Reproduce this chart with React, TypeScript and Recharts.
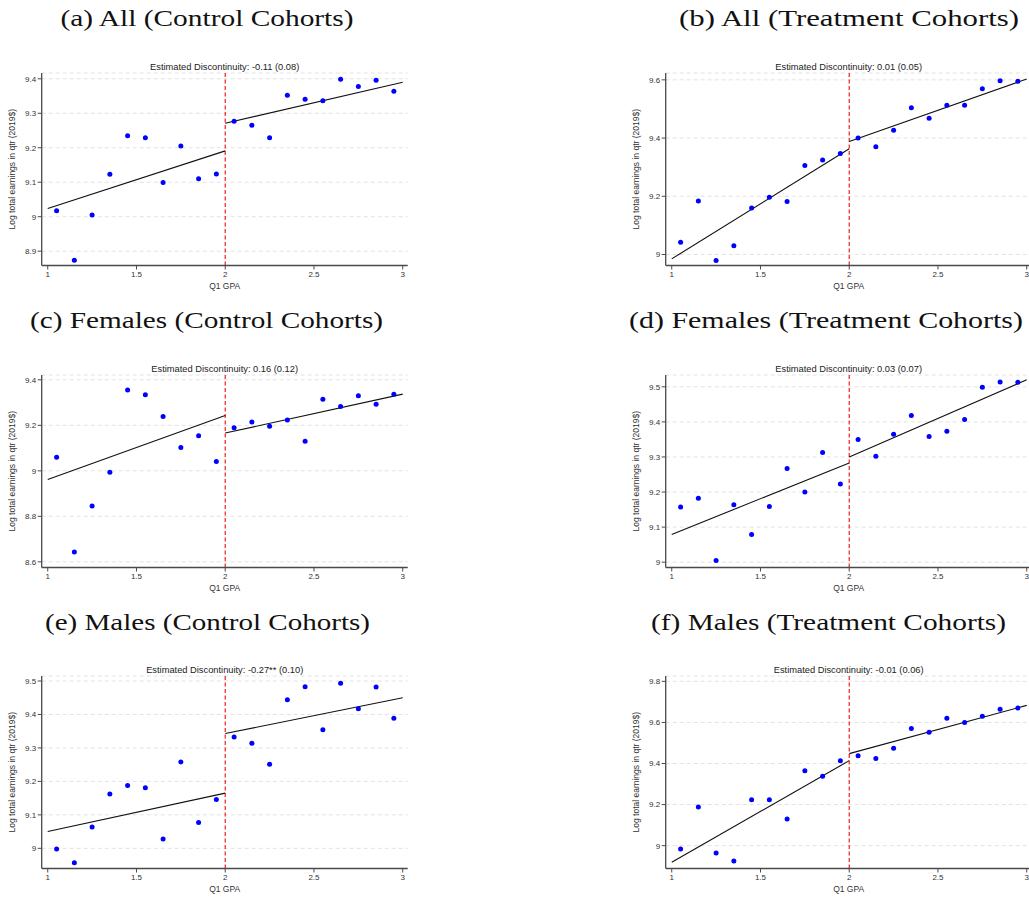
import React from "react";
import { ScatterChart, Scatter, XAxis, YAxis, CartesianGrid, ReferenceLine } from "recharts";

const SANS = '"Liberation Sans", Arial, sans-serif';
const SERIF = '"Liberation Serif", "Times New Roman", serif';

// ---------------- data ----------------
const binCenters = [1.05, 1.15, 1.25, 1.35, 1.45, 1.55, 1.65, 1.75, 1.85, 1.95, 2.05, 2.15, 2.25, 2.35, 2.45, 2.55, 2.65, 2.75, 2.85, 2.95];
const fitKnots = [1, 2, 3];
const cutoff = 2;
const xTicks = [1, 1.5, 2, 2.5, 3];

const allControlY = [9.017, 8.874, 9.005, 9.123, 9.235, 9.229, 9.099, 9.205, 9.11, 9.124, 9.277, 9.265, 9.229, 9.352, 9.341, 9.336, 9.399, 9.378, 9.396, 9.364];
const allControlLeftFit = [9.024, 9.191];
const allControlRightFit = [9.271, 9.39];
const allControlTicks = [8.9, 9, 9.1, 9.2, 9.3, 9.4];

const allTreatY = [9.042, 9.184, 8.979, 9.03, 9.16, 9.197, 9.182, 9.306, 9.325, 9.347, 9.4, 9.37, 9.427, 9.504, 9.468, 9.513, 9.513, 9.569, 9.597, 9.595];
const allTreatLeftFit = [8.985, 9.363];
const allTreatRightFit = [9.388, 9.603];
const allTreatTicks = [9, 9.2, 9.4, 9.6];

const femControlY = [9.06, 8.643, 8.845, 8.994, 9.355, 9.334, 9.239, 9.103, 9.154, 9.041, 9.189, 9.215, 9.196, 9.223, 9.13, 9.315, 9.283, 9.33, 9.293, 9.337];
const femControlLeftFit = [8.962, 9.243];
const femControlRightFit = [9.166, 9.337];
const femControlTicks = [8.6, 8.8, 9, 9.2, 9.4];

const femTreatY = [9.157, 9.182, 9.005, 9.164, 9.079, 9.159, 9.267, 9.2, 9.313, 9.223, 9.35, 9.302, 9.365, 9.418, 9.358, 9.373, 9.407, 9.499, 9.514, 9.513];
const femTreatLeftFit = [9.079, 9.283];
const femTreatRightFit = [9.3, 9.52];
const femTreatTicks = [9, 9.1, 9.2, 9.3, 9.4, 9.5];

const maleControlY = [8.998, 8.957, 9.064, 9.162, 9.188, 9.181, 9.028, 9.258, 9.077, 9.146, 9.333, 9.314, 9.251, 9.444, 9.483, 9.354, 9.493, 9.417, 9.482, 9.389];
const maleControlLeftFit = [9.05, 9.165];
const maleControlRightFit = [9.343, 9.45];
const maleControlTicks = [9, 9.1, 9.2, 9.3, 9.4, 9.5];

const maleTreatY = [8.984, 9.188, 8.964, 8.925, 9.224, 9.224, 9.13, 9.365, 9.338, 9.414, 9.438, 9.424, 9.474, 9.57, 9.552, 9.62, 9.6, 9.63, 9.664, 9.67];
const maleTreatLeftFit = [8.919, 9.414];
const maleTreatRightFit = [9.448, 9.683];
const maleTreatTicks = [9, 9.2, 9.4, 9.6, 9.8];

// ---------------- layout ----------------
const ROW_PLOT_TOP = [72.5, 374.5, 676];
const PLOT_H = 192.5;
const PLOT_W = 366;
const TOP_PAD = 10;
const X_AXIS_H = 30;
const X_DOMAIN: [number, number] = [0.966, 3.028];
const COLS = [
  { left: 0, axisW: 41.7, width: 420, labelX: 11.7 },
  { left: 620, axisW: 45.7, width: 412, labelX: 16 },
];

type PanelSpec = {
  title: string;
  titleCenter: number;
  titleWidth: number;
  disc: string;
  values: number[];
  leftFit: number[];
  rightFit: number[];
  yTicks: number[];
  yDomain: [number, number];
  col: number;
  row: number;
};

const panels: PanelSpec[] = [
  { title: "(a) All (Control Cohorts)", titleCenter: 207, titleWidth: 293, disc: "Estimated Discontinuity: -0.11 (0.08)", values: allControlY, leftFit: allControlLeftFit, rightFit: allControlRightFit, yTicks: allControlTicks, yDomain: [8.8585, 9.4168], col: 0, row: 0 },
  { title: "(b) All (Treatment Cohorts)", titleCenter: 849, titleWidth: 340, disc: "Estimated Discontinuity: 0.01 (0.05)", values: allTreatY, leftFit: allTreatLeftFit, rightFit: allTreatRightFit, yTicks: allTreatTicks, yDomain: [8.9622, 9.6235], col: 1, row: 0 },
  { title: "(c) Females (Control Cohorts)", titleCenter: 206.5, titleWidth: 353, disc: "Estimated Discontinuity: 0.16 (0.12)", values: femControlY, leftFit: femControlLeftFit, rightFit: femControlRightFit, yTicks: femControlTicks, yDomain: [8.5751, 9.4212], col: 0, row: 1 },
  { title: "(d) Females (Treatment Cohorts)", titleCenter: 826, titleWidth: 394, disc: "Estimated Discontinuity: 0.03 (0.07)", values: femTreatY, leftFit: femTreatLeftFit, rightFit: femTreatRightFit, yTicks: femTreatTicks, yDomain: [8.9848, 9.5337], col: 1, row: 1 },
  { title: "(e) Males (Control Cohorts)", titleCenter: 207.5, titleWidth: 325, disc: "Estimated Discontinuity: -0.27** (0.10)", values: maleControlY, leftFit: maleControlLeftFit, rightFit: maleControlRightFit, yTicks: maleControlTicks, yDomain: [8.9397, 9.5149], col: 0, row: 2 },
  { title: "(f) Males (Treatment Cohorts)", titleCenter: 828.5, titleWidth: 355, disc: "Estimated Discontinuity: -0.01 (0.06)", values: maleTreatY, leftFit: maleTreatLeftFit, rightFit: maleTreatRightFit, yTicks: maleTreatTicks, yDomain: [8.8889, 9.826], col: 1, row: 2 },
];

const AXIS_COLOR = "#4a4a4a";
const TEXT_COLOR = "#333";

const Dot = (props: any) => {
  if (props.cx == null || props.cy == null) return <g />;
  return <circle cx={props.cx} cy={props.cy} r={2.5} fill="#0000ff" />;
};

function Panel({ p }: { p: PanelSpec }) {
  const col = COLS[p.col];
  const plotTop = ROW_PLOT_TOP[p.row];
  const chartH = TOP_PAD + PLOT_H + X_AXIS_H;
  const data = binCenters.map((x, i) => ({ x, y: p.values[i] }));
  const plotCx = col.axisW + PLOT_W / 2;
  const plotCy = TOP_PAD + PLOT_H / 2;
  const plotBottom = TOP_PAD + PLOT_H;
  return (
    <>
      <div
        style={{
          position: "absolute",
          left: col.left + col.axisW,
          top: plotTop - 12,
          width: PLOT_W,
          height: 12,
          lineHeight: "12px",
          fontSize: 9.3,
          fontFamily: SANS,
          textAlign: "center",
          color: "#222",
          whiteSpace: "nowrap",
        }}
      >
        {p.disc}
      </div>
      <div style={{ position: "absolute", left: col.left, top: plotTop - TOP_PAD }}>
        <ScatterChart
          width={col.width}
          height={chartH}
          margin={{ top: TOP_PAD, right: col.width - col.axisW - PLOT_W, bottom: 0, left: 0 }}
        >
          <CartesianGrid horizontal vertical={false} stroke="#e2e2e2" strokeDasharray="4 3" />
          <XAxis
            type="number"
            dataKey="x"
            domain={X_DOMAIN}
            allowDataOverflow
            ticks={xTicks}
            interval={0}
            tickFormatter={(v: number) => String(v)}
            height={X_AXIS_H}
            tickSize={4}
            tickMargin={1.5}
            tick={{ fontSize: 8, fill: TEXT_COLOR, fontFamily: SANS }}
            axisLine={{ stroke: AXIS_COLOR, strokeWidth: 1.3 }}
            tickLine={{ stroke: AXIS_COLOR, strokeWidth: 1 }}
            label={() => (
              <text
                x={plotCx}
                y={plotBottom + 20}
                textAnchor="middle"
                dominantBaseline="central"
                fontSize={8.5}
                fontFamily={SANS}
                fill={TEXT_COLOR}
              >
                Q1 GPA
              </text>
            )}
          />
          <YAxis
            type="number"
            dataKey="y"
            domain={p.yDomain}
            allowDataOverflow
            ticks={p.yTicks}
            interval={0}
            tickFormatter={(v: number) => String(v)}
            width={col.axisW}
            tickSize={4}
            tickMargin={1.5}
            tick={{ fontSize: 8, fill: TEXT_COLOR, fontFamily: SANS }}
            axisLine={{ stroke: AXIS_COLOR, strokeWidth: 1.3 }}
            tickLine={{ stroke: AXIS_COLOR, strokeWidth: 1 }}
            label={() => (
              <text
                x={col.labelX}
                y={plotCy}
                transform={`rotate(-90 ${col.labelX} ${plotCy})`}
                textAnchor="middle"
                dominantBaseline="central"
                fontSize={8.5}
                fontFamily={SANS}
                fill={TEXT_COLOR}
              >
                Log total earnings in qtr (2019$)
              </text>
            )}
          />
          <ReferenceLine x={cutoff} stroke="#f02020" strokeWidth={1.2} strokeDasharray="4 2.5" />
          <ReferenceLine
            segment={[
              { x: fitKnots[0], y: p.leftFit[0] },
              { x: fitKnots[1], y: p.leftFit[1] },
            ]}
            stroke="#111"
            strokeWidth={1.1}
          />
          <ReferenceLine
            segment={[
              { x: fitKnots[1], y: p.rightFit[0] },
              { x: fitKnots[2], y: p.rightFit[1] },
            ]}
            stroke="#111"
            strokeWidth={1.1}
          />
          <Scatter data={data} fill="#0000ff" shape={Dot} isAnimationActive={false} />
        </ScatterChart>
      </div>
    </>
  );
}

const TITLE_BASELINE = [25.5, 327.5, 629.5];

export default function App() {
  return (
    <div
      style={{
        position: "absolute",
        left: 0,
        top: 0,
        width: 1029,
        height: 897,
        overflow: "hidden",
        background: "#fff",
      }}
    >
      {panels.map((p, i) => (
        <Panel key={i} p={p} />
      ))}
      <svg width={1029} height={897} style={{ position: "absolute", left: 0, top: 0, pointerEvents: "none" }}>
        {panels.map((p, i) => (
          <text
            key={i}
            x={p.titleCenter - p.titleWidth / 2}
            y={TITLE_BASELINE[p.row]}
            textLength={p.titleWidth}
            lengthAdjust="spacingAndGlyphs"
            fontSize={24}
            fontFamily={SERIF}
            fill="#111"
          >
            {p.title}
          </text>
        ))}
      </svg>
    </div>
  );
}
